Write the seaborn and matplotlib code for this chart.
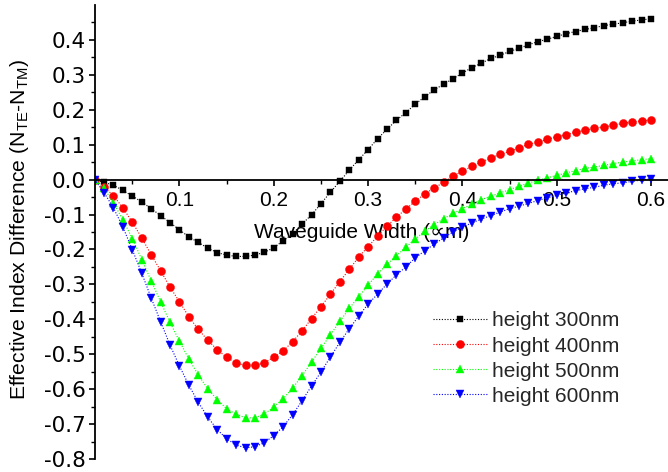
import numpy as np
import pandas as pd
import matplotlib
matplotlib.use("Agg")
import matplotlib.pyplot as plt
import seaborn as sns

# ---- data ----
width_um = [round(0.01 * i, 2) for i in range(1, 61)]

h300 = [0.000, -0.008, -0.016, -0.031, -0.047, -0.064, -0.083, -0.103, -0.123, -0.144,
        -0.164, -0.180, -0.196, -0.209, -0.216, -0.220, -0.220, -0.216, -0.208, -0.195,
        -0.175, -0.155, -0.127, -0.101, -0.069, -0.036, -0.005, 0.027, 0.057, 0.086,
        0.117, 0.144, 0.170, 0.192, 0.216, 0.237, 0.257, 0.273, 0.289, 0.305,
        0.321, 0.333, 0.347, 0.356, 0.367, 0.376, 0.386, 0.395, 0.402, 0.410,
        0.418, 0.424, 0.430, 0.435, 0.441, 0.445, 0.449, 0.454, 0.457, 0.461]

h400 = [0.000, -0.021, -0.046, -0.081, -0.122, -0.167, -0.215, -0.261, -0.308, -0.350,
        -0.393, -0.429, -0.460, -0.487, -0.509, -0.525, -0.532, -0.532, -0.524, -0.509,
        -0.490, -0.464, -0.433, -0.398, -0.364, -0.328, -0.292, -0.257, -0.222, -0.192,
        -0.162, -0.133, -0.108, -0.084, -0.062, -0.041, -0.024, -0.008, 0.010, 0.024,
        0.038, 0.050, 0.062, 0.072, 0.081, 0.091, 0.101, 0.108, 0.115, 0.123,
        0.129, 0.136, 0.141, 0.147, 0.151, 0.156, 0.161, 0.165, 0.168, 0.171]

h500 = [0.000, -0.024, -0.067, -0.115, -0.169, -0.229, -0.290, -0.350, -0.409, -0.463,
        -0.514, -0.560, -0.599, -0.630, -0.656, -0.672, -0.682, -0.682, -0.671, -0.651,
        -0.627, -0.597, -0.561, -0.523, -0.483, -0.444, -0.406, -0.369, -0.335, -0.302,
        -0.270, -0.243, -0.218, -0.194, -0.170, -0.148, -0.129, -0.112, -0.097, -0.083,
        -0.071, -0.057, -0.048, -0.038, -0.029, -0.019, -0.010, -0.002, 0.005, 0.012,
        0.019, 0.026, 0.032, 0.036, 0.041, 0.046, 0.050, 0.054, 0.057, 0.060]

h600 = [0.000, -0.037, -0.081, -0.136, -0.201, -0.268, -0.339, -0.407, -0.474, -0.534,
        -0.589, -0.638, -0.680, -0.716, -0.742, -0.760, -0.768, -0.765, -0.753, -0.733,
        -0.707, -0.673, -0.633, -0.591, -0.551, -0.508, -0.466, -0.427, -0.391, -0.356,
        -0.328, -0.299, -0.273, -0.250, -0.224, -0.204, -0.185, -0.167, -0.150, -0.136,
        -0.124, -0.113, -0.103, -0.093, -0.083, -0.076, -0.068, -0.060, -0.052, -0.045,
        -0.038, -0.032, -0.026, -0.022, -0.016, -0.012, -0.009, -0.005, -0.001, 0.003]

series_names = ["height 300nm", "height 400nm", "height 500nm", "height 600nm"]
series_values = [h300, h400, h500, h600]
colors = ["#000000", "#FF0000", "#00FF00", "#0000FF"]
markers = ["s", "o", "^", "v"]
marker_sizes = [4.8, 5.8, 6.0, 6.0]

x_ticks = [0.1, 0.2, 0.3, 0.4, 0.5, 0.6]
x_tick_labels = ["0.1", "0.2", "0.3", "0.4", "0.5", "0.6"]
y_ticks = [-0.8, -0.7, -0.6, -0.5, -0.4, -0.3, -0.2, -0.1, 0.0, 0.1, 0.2, 0.3, 0.4]
y_tick_labels = ["-0.8", "-0.7", "-0.6", "-0.5", "-0.4", "-0.3", "-0.2", "-0.1",
                 "0.0", "0.1", "0.2", "0.3", "0.4"]

df = pd.DataFrame({
    "width": np.tile(width_um, len(series_names)),
    "diff": np.concatenate(series_values),
    "series": np.repeat(series_names, len(width_um)),
})

# ---- style ----
sns.set_theme(style="ticks")
plt.rcParams["font.family"] = ["Liberation Sans", "DejaVu Sans"]
plt.rcParams["axes.facecolor"] = "white"
plt.rcParams["figure.facecolor"] = "white"

fig = plt.figure(figsize=(6.68, 4.72), dpi=100)
ax = fig.add_axes([95 / 668, 13 / 472, (668 - 95) / 668, (459 - 5) / 472])

sns.lineplot(data=df, x="width", y="diff", hue="series", style="series",
             palette=colors, markers=markers, dashes=[(1, 1.5)] * 4,
             linewidth=0.9, ax=ax, legend=False, errorbar=None)

for line, c, m, ms in zip(ax.lines, colors, markers, marker_sizes):
    line.set_marker(m)
    line.set_markersize(ms)
    line.set_markerfacecolor(c)
    line.set_markeredgecolor(c)
    line.set_markeredgewidth(0.3)
    line.set_color(c)
    line.set_alpha(1.0)
    line.set_linewidth(0.8)

ax.set_xlim(0.0104, 0.618)
ax.set_ylim(-0.8, 0.5)

# spines
ax.spines["top"].set_visible(False)
ax.spines["right"].set_visible(False)
ax.spines["bottom"].set_position(("data", 0))
for s in ("left", "bottom"):
    ax.spines[s].set_linewidth(1.3)
    ax.spines[s].set_color("black")

ax.set_xticks(x_ticks)
ax.set_xticklabels(x_tick_labels)
ax.set_xticks(np.arange(0.05, 0.61, 0.1), minor=True)
ax.set_yticks(y_ticks)
ax.set_yticklabels(y_tick_labels)
ax.set_yticks(np.arange(-0.75, 0.5, 0.1), minor=True)

ax.tick_params(axis="both", which="major", direction="out", length=4.5, width=1.2,
               colors="black")
ax.tick_params(axis="both", which="minor", direction="out", length=2.8, width=1.0,
               colors="black")
ax.tick_params(axis="x", which="major", pad=4, labelsize=15)
ax.tick_params(axis="y", which="major", pad=2)
for lab in ax.get_yticklabels():
    lab.set_fontfamily(["DejaVu Sans"])
    lab.set_fontsize(15.5)

ax.set_ylabel("Effective Index Difference (N$_{\\mathregular{TE}}$-N$_{\\mathregular{TM}}$)",
              fontsize=15.2, color="black")
ax.yaxis.set_label_coords((31 - 95) / 573, 0.506)
ax.set_xlabel("Waveguide Width (\u221dm)", fontsize=15, color="black")
ax.xaxis.set_label_coords((362 - 95) / 573, (459 - 233) / 454)
ax.xaxis.label.set_va("center")

handles = ax.lines[:4]
leg = ax.legend(handles, series_names, loc="upper left",
                bbox_to_anchor=((433 - 95) / 573, (459 - 311.5) / 454),
                frameon=False, fontsize=15, handlelength=2.6, handletextpad=0.25,
                labelspacing=0.29, borderpad=0, borderaxespad=0)

fig.savefig("out.png", dpi=100, facecolor="white")
